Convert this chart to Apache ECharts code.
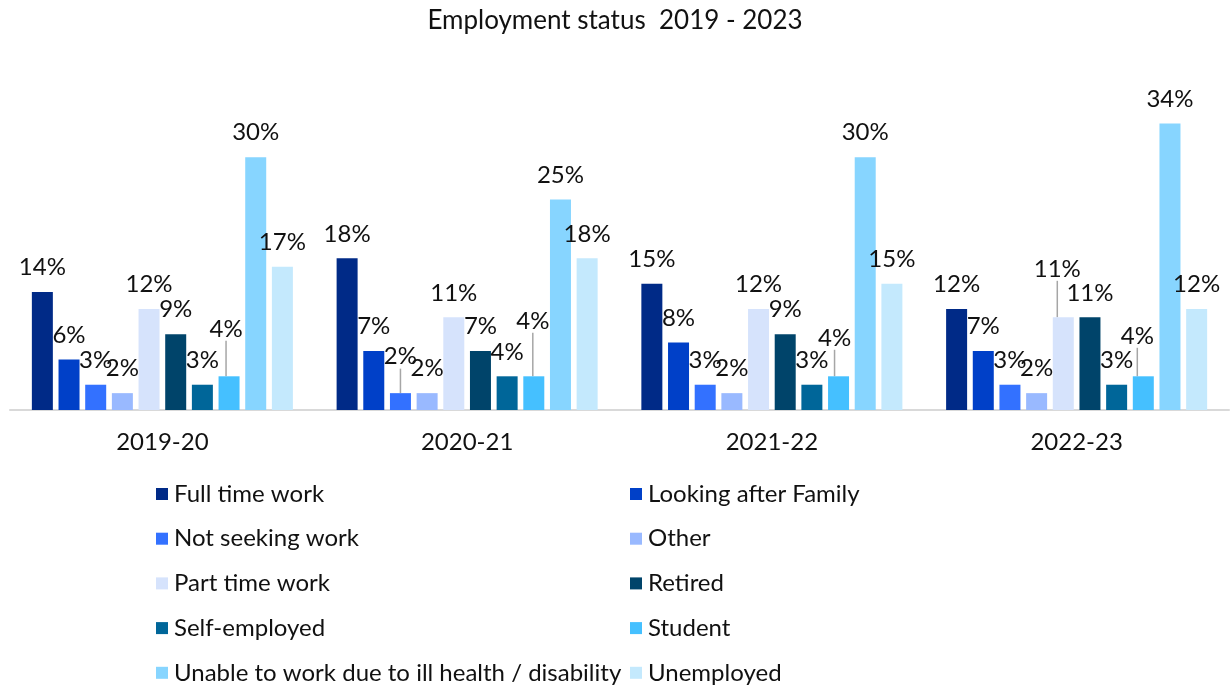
<!DOCTYPE html>
<html>
<head>
<meta charset="utf-8">
<title>Employment status 2019 - 2023</title>
<script src="https://cdn.jsdelivr.net/npm/echarts@6/dist/echarts.min.js"></script>
<style>
  html, body { margin: 0; padding: 0; background: #ffffff; }
  #chart { width: 1230px; height: 688px; }
</style>
</head>
<body>
<div id="chart"></div>
<script>
// Survey years
const categories = ['2019-20', '2020-21', '2021-22', '2022-23'];

// Share of respondents by employment status (%)
const fullTimeWork       = [14, 18, 15, 12];
const lookingAfterFamily = [6, 7, 8, 7];
const notSeekingWork     = [3, 2, 3, 3];
const other              = [2, 2, 2, 2];
const partTimeWork       = [12, 11, 12, 11];
const retired            = [9, 7, 9, 11];
const selfEmployed       = [3, 4, 3, 3];
const student            = [4, 4, 4, 4];
const unableToWork       = [30, 25, 30, 34];
const unemployed         = [17, 18, 15, 12];

const seriesNames = [
  'Full time work', 'Looking after Family', 'Not seeking work', 'Other',
  'Part time work', 'Retired', 'Self-employed', 'Student',
  'Unable to work due to ill health / disability', 'Unemployed'
];
const seriesValues = [
  fullTimeWork, lookingAfterFamily, notSeekingWork, other, partTimeWork,
  retired, selfEmployed, student, unableToWork, unemployed
];
const seriesColors = [
  '#002a87', '#0040c8', '#3371ff', '#99b9ff', '#d6e3fc',
  '#00446a', '#006699', '#45c0ff', '#87d5ff', '#c4e9fd'
];

// Labels pulled away from their bars, drawn with a leader line: [dx, dy]
const leaderMoves = {
  2: { 1: [0, -12] },
  4: { 3: [-6, -24] },
  7: { 0: [-3, -23], 1: [-1, -31], 2: [-4, -14], 3: [-6, -16] }
};
// Labels nudged slightly without a leader line: [dx, dy]
const labelNudges = {
  3: { 0: [2, 5], 3: [2, 14] }
};

const FONT = 'Lato, "Noto Sans", sans-serif';
const TEXT = '#111111';

const series = seriesNames.map((name, si) => ({
  name: name,
  type: 'bar',
  barWidth: 21,
  barGap: '27%',
  itemStyle: { color: seriesColors[si] },
  data: seriesValues[si].map((v, di) => {
    const nudge = labelNudges[si] && labelNudges[si][di];
    const lead = leaderMoves[si] && leaderMoves[si][di];
    if (nudge) return { value: v, label: { offset: nudge } };
    if (lead) return { value: v, labelLine: { show: true } };
    return v;
  }),
  label: {
    show: true,
    position: 'top',
    distance: 12.5,
    formatter: p => p.value + '%',
    fontFamily: FONT,
    fontSize: 24,
    color: TEXT
  },
  labelLine: {
    show: false,
    lineStyle: { color: '#a6a6a6', width: 1.5 }
  },
  labelLayout: params => {
    const m = leaderMoves[si] && leaderMoves[si][params.dataIndex];
    return m ? { dx: m[0], dy: m[1] } : {};
  }
}));

const leftNames = seriesNames.filter((_, i) => i % 2 === 0);
const rightNames = seriesNames.filter((_, i) => i % 2 === 1);

function legendColumn(names, left) {
  return {
    data: names,
    orient: 'vertical',
    left: left,
    top: 482,
    padding: 0,
    itemWidth: 12,
    itemHeight: 12,
    itemGap: 20.7,
    icon: 'rect',
    selectedMode: false,
    textStyle: {
      fontFamily: FONT,
      fontSize: 24,
      lineHeight: 24,
      color: TEXT,
      padding: [0, 0, 0, 1]
    }
  };
}

const chart = echarts.init(document.getElementById('chart'), null, { renderer: 'canvas' });
chart.setOption({
  animation: false,
  backgroundColor: '#ffffff',
  title: {
    text: 'Employment status  2019 - 2023',
    left: 'center',
    top: 8,
    padding: 0,
    textStyle: {
      fontFamily: FONT,
      fontSize: 26,
      fontWeight: 'normal',
      color: TEXT
    }
  },
  legend: [legendColumn(leftNames, 156), legendColumn(rightNames, 630)],
  grid: { left: 10, right: 1, top: 73, bottom: 278, containLabel: false },
  xAxis: {
    type: 'category',
    data: categories,
    axisTick: { show: false },
    axisLine: { show: true, lineStyle: { color: '#d9d9d9', width: 2 } },
    axisLabel: {
      margin: 20,
      fontFamily: FONT,
      fontSize: 24,
      color: TEXT
    }
  },
  yAxis: {
    type: 'value',
    min: 0,
    max: 40,
    show: false,
    splitLine: { show: false }
  },
  series: series
});
</script>
</body>
</html>
